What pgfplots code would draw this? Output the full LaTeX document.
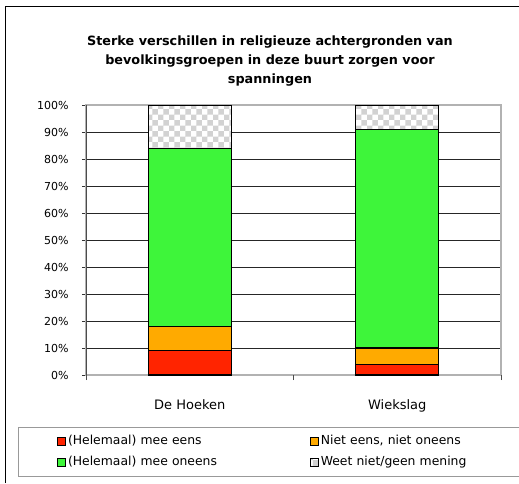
\documentclass[border=0pt]{standalone}
\usepackage{fontspec}
\setmainfont{DejaVu Sans}
\usepackage{pgfplots}
\pgfplotsset{compat=1.18}
\usetikzlibrary{patterns}
\definecolor{cRed}{RGB}{255,36,0}
\definecolor{cOrange}{RGB}{255,170,0}
\definecolor{cGreen}{RGB}{62,245,58}
\begin{document}
\begin{tikzpicture}
\useasboundingbox (0pt,0pt) rectangle (519pt,483pt);
\draw[black, line width=0.8pt] (5pt,0pt) -- (5pt,477pt) -- (519pt,477pt);
\node[font=\bfseries\fontsize{12.8}{19}\selectfont, align=center] at (270pt,421.5pt)
  {Sterke verschillen in religieuze achtergronden van\\bevolkingsgroepen in deze buurt zorgen voor\\spanningen};
\begin{axis}[at={(86pt,108pt)}, anchor=south west, scale only axis,
  width=415pt, height=270pt,
  ybar stacked, bar width=83pt,
  xmin=-0.5, xmax=1.5, ymin=0, ymax=100,
  xtick={0,1}, xticklabels={De Hoeken, Wiekslag},
  major x tick style={draw=none},
  extra x ticks={-0.5,0.5,1.5}, extra x tick labels={},
  extra x tick style={major x tick style={draw=black!70, line width=0.8pt}, major tick length=5pt},
  ytick={0,10,...,100}, ymajorgrids=true, grid style={black!85, line width=0.8pt},
  tick pos=left, tick align=outside, major tick length=4pt,
  y tick style={black!80, line width=0.8pt},
  yticklabel={\pgfmathprintnumber{\tick}\%},
  /pgf/number format/assume math mode=true,
  yticklabel style={font=\fontsize{11}{13}\selectfont, xshift=-10pt},
  xticklabel style={font=\fontsize{13}{15}\selectfont, yshift=-17pt},
  axis line style={draw=gray!60, line width=1.2pt},
  every axis plot/.append style={draw=black, line width=1.1pt},
  legend style={at={(axis description cs:0.441,-0.1926)}, anchor=north,
    legend columns=2, draw=gray!80, line width=0.8pt,
    inner xsep=39pt, inner ysep=6pt, row sep=5pt,
    font=\fontsize{12.4}{15}\selectfont,
    nodes={text width=158pt, align=left, text height=9pt, text depth=3pt, inner sep=2pt},
    /tikz/every even column/.append style={column sep=82pt}},
  legend image code/.code={\draw[#1, line width=0.8pt, draw=black] (0pt,-4pt) rectangle (8pt,4pt);},
]
\addplot[fill=cRed] coordinates {(0,9) (1,4)};
\addplot[fill=cOrange] coordinates {(0,9) (1,6)};
\addplot[fill=cGreen] coordinates {(0,66) (1,81)};
\addplot[fill=white, postaction={pattern=checkerboard, pattern color=gray!35}] coordinates {(0,16) (1,9)};
\legend{(Helemaal) mee eens, {Niet eens, niet oneens}, (Helemaal) mee oneens, Weet niet/geen mening}
\draw[black!70, line width=1.2pt] (rel axis cs:0,0) -- (rel axis cs:0,1);
\end{axis}
\end{tikzpicture}
\end{document}
